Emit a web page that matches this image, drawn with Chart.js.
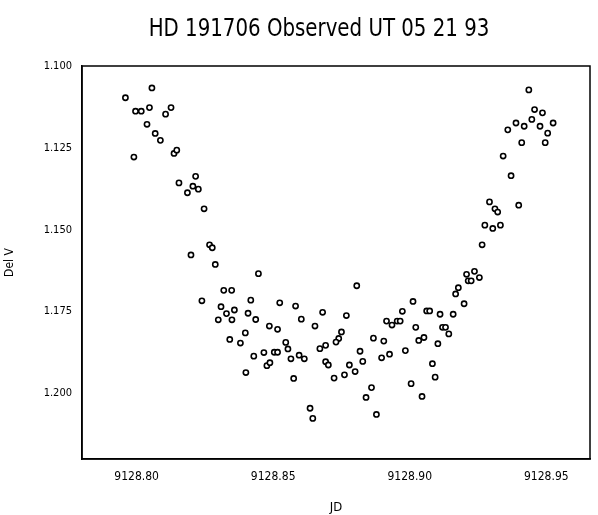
<!DOCTYPE html>
<html>
<head>
<meta charset="utf-8">
<script src="https://cdn.jsdelivr.net/npm/chart.js@4.4.1/dist/chart.umd.min.js"></script>
<style>
  body { margin: 0; background: #fff; }
</style>
</head>
<body>
<canvas id="grafico" width="598" height="515"></canvas>
<script>
const titulo = "HD 191706 Observed UT 05 21 93";
const tituloX = "JD";
const tituloY = "Del V";

// JD of each observation
const jd = [
  9128.7959, 9128.8056, 9128.7996, 9128.8017, 9128.8047, 9128.8126, 9128.8106, 9128.8038, 9128.8068, 9128.8087,
  9128.7990, 9128.8137, 9128.8147, 9128.8216, 9128.8155, 9128.8206, 9128.8226, 9128.8186, 9128.8247, 9128.8267,
  9128.8277, 9128.8199, 9128.8288, 9128.8319, 9128.8348, 9128.8239, 9128.8309, 9128.8329, 9128.8358, 9128.8408,
  9128.8299, 9128.8349, 9128.8398, 9128.8341, 9128.8380, 9128.8400, 9128.8418,
  9128.8446, 9128.8436, 9128.8429, 9128.8466, 9128.8486, 9128.8516, 9128.8524, 9128.8504, 9128.8516, 9128.8477,
  9128.8488, 9128.8546, 9128.8554, 9128.8565, 9128.8575, 9128.8582, 9128.8603, 9128.8595, 9128.8614, 9128.8635,
  9128.8645, 9128.8653, 9128.8681, 9128.8671, 9128.8692, 9128.8692, 9128.8702, 9128.8723, 9128.8750, 9128.8740,
  9128.8730, 9128.8768, 9128.8761, 9128.8779, 9128.8800, 9128.8806, 9128.8818, 9128.8828, 9128.8860, 9128.8840,
  9128.8878, 9128.8867, 9128.8897, 9128.8905, 9128.8926, 9128.8915, 9128.8935, 9128.8954, 9128.8965, 9128.8973,
  9128.8984, 9128.9005, 9128.9012, 9128.9022, 9128.9033,
  9128.9265, 9128.9208, 9128.9237, 9128.9214, 9128.9225, 9128.9255, 9128.9178, 9128.9168, 9128.9199, 9128.9062, 9128.9073,
  9128.9111, 9128.9159, 9128.9120, 9128.9131, 9128.9143, 9128.9052, 9128.9103, 9128.9083, 9128.9093, 9128.9045,
  9128.9436, 9128.9457, 9128.9486, 9128.9447, 9128.9389, 9128.9419, 9128.9477, 9128.9525, 9128.9359, 9128.9505,
  9128.9410, 9128.9496, 9128.9342, 9128.9371, 9128.9292, 9128.9399, 9128.9312, 9128.9322, 9128.9275, 9128.9304, 9128.9332
];

// Del V for each observation
const delV = [
  1.1097, 1.1067, 1.1138, 1.1138, 1.1127, 1.1127, 1.1147, 1.1178, 1.1206, 1.1227,
  1.1278, 1.1267, 1.1257, 1.1337, 1.1357, 1.1367, 1.1376, 1.1387, 1.1436, 1.1546,
  1.1555, 1.1577, 1.1606, 1.1685, 1.1685, 1.1717, 1.1735, 1.1756, 1.1745, 1.1755,
  1.1775, 1.1775, 1.1815, 1.1835, 1.1846, 1.1936, 1.1715,
  1.1634, 1.1774, 1.1886, 1.1875, 1.1794, 1.1804, 1.1723, 1.1874, 1.1874, 1.1915,
  1.1906, 1.1844, 1.1864, 1.1894, 1.1954, 1.1733, 1.1773, 1.1883, 1.1894, 1.2045,
  1.2076, 1.1794, 1.1752, 1.1863, 1.1853, 1.1903, 1.1913, 1.1953, 1.1812, 1.1832,
  1.1843, 1.1762, 1.1943, 1.1913, 1.1933, 1.1671, 1.1871, 1.1902, 1.1982, 1.2012,
  1.2064, 1.1831, 1.1891, 1.1840, 1.1880, 1.1779, 1.1791, 1.1779, 1.1779, 1.1749,
  1.1869, 1.1970, 1.1719, 1.1798, 1.1838,
  1.1546, 1.1636, 1.1627, 1.1656, 1.1656, 1.1646, 1.1677, 1.1696, 1.1726, 1.1748, 1.1748,
  1.1758, 1.1758, 1.1798, 1.1798, 1.1818, 1.1829, 1.1848, 1.1909, 1.1950, 1.2009,
  1.1073, 1.1133, 1.1143, 1.1163, 1.1174, 1.1184, 1.1184, 1.1174, 1.1195, 1.1205,
  1.1234, 1.1234, 1.1275, 1.1335, 1.1415, 1.1425, 1.1436, 1.1446, 1.1486, 1.1496, 1.1486
];

const jdMin = 9128.78;
const jdMax = 9128.966;
const jdPaso = 0.05;
const delVMin = 1.100;
const delVMax = 1.220;
const delVPaso = 0.025;

const fuente = "'Liberation Sans Narrow', 'DejaVu Sans Condensed', 'Liberation Sans', sans-serif";

const puntos = jd.map((x, i) => ({ x: x, y: delV[i] }));

// frame on all four sides plus the title
const marco = {
  id: "marco",
  afterDraw(chart) {
    const ctx = chart.ctx;
    const a = chart.chartArea;
    ctx.save();
    ctx.strokeStyle = "#000";
    ctx.lineWidth = 1.5;
    ctx.strokeRect(a.left, a.top, a.right - a.left, a.bottom - a.top);
    ctx.fillStyle = "#000";
    ctx.font = "25px " + fuente;
    ctx.textAlign = "center";
    ctx.textBaseline = "middle";
    // narrow the title a bit, as in the scan
    ctx.translate((a.left + a.right) / 2 - 17, 29);
    ctx.scale(0.88, 1);
    ctx.fillText(titulo, 0, 0);
    ctx.restore();
  }
};

new Chart(
  document.getElementById("grafico"),
  {
    type: "scatter",
    data: {
      datasets: [
        {
          data: puntos,
          pointStyle: "circle",
          pointRadius: 2.6,
          pointHoverRadius: 2.6,
          pointBorderWidth: 1.6,
          pointBackgroundColor: "#fff",
          pointBorderColor: "#000"
        }
      ]
    },
    options: {
      responsive: false,
      animation: false,
      layout: {
        padding: { top: 66, right: 8, left: 0, bottom: 0 }
      },
      plugins: {
        legend: { display: false },
        tooltip: { enabled: false }
      },
      scales: {
        x: {
          type: "linear",
          min: jdMin,
          max: jdMax,
          afterFit(scale) { scale.height = 56; },
          grid: { display: false, drawTicks: false },
          border: { color: "#000", width: 1.5 },
          ticks: {
            stepSize: jdPaso,
            includeBounds: false,
            padding: 11,
            color: "#000",
            font: { family: fuente, size: 12 },
            maxRotation: 0,
            callback: v => v.toFixed(2)
          },
          title: {
            display: true,
            text: tituloX,
            color: "#000",
            font: { family: fuente, size: 13 },
            padding: { top: 0, bottom: 0 }
          }
        },
        y: {
          type: "linear",
          reverse: true,
          min: delVMin,
          max: delVMax,
          afterFit(scale) { scale.width = 82; },
          grid: { display: false, drawTicks: false },
          border: { color: "#000", width: 1.5 },
          ticks: {
            stepSize: delVPaso,
            includeBounds: false,
            padding: 10,
            color: "#000",
            font: { family: fuente, size: 11 },
            callback: v => v.toFixed(3)
          },
          title: {
            display: true,
            text: tituloY,
            color: "#000",
            font: { family: fuente, size: 12 },
            padding: { top: 3, bottom: 0 }
          }
        }
      }
    },
    plugins: [marco]
  }
);
</script>
</body>
</html>
